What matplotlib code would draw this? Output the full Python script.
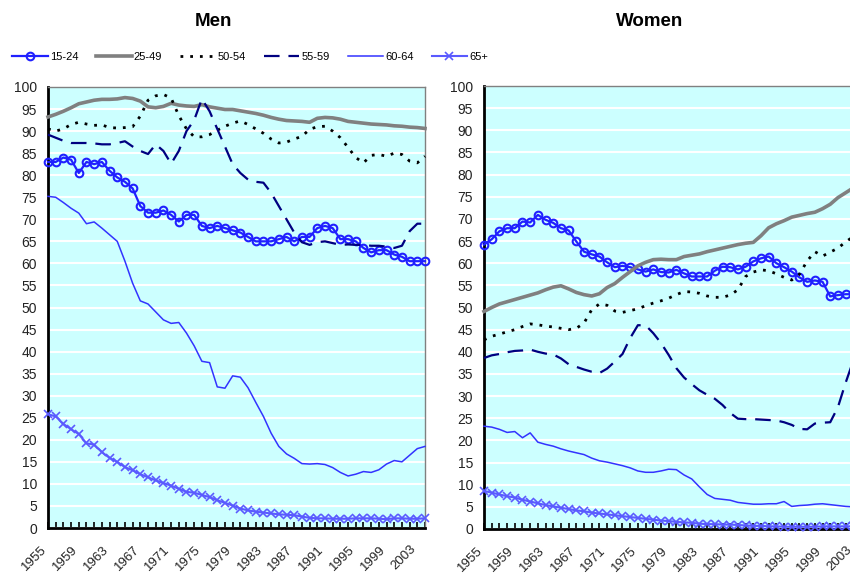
import numpy as np
import matplotlib
matplotlib.use("Agg")
import matplotlib.pyplot as plt
from matplotlib.transforms import ScaledTranslation

plt.rcParams['font.family'] = ['Liberation Sans', 'DejaVu Sans']

years = list(range(1955, 2005))
age_groups = ['15-24', '25-49', '50-54', '55-59', '60-64', '65+']

# participation rates, men
men_15_24 = [83, 83, 84, 83.5, 80.5, 83, 82.5, 83, 81, 79.5, 78.5, 77, 73, 71.5, 71.5, 72, 71, 69.5, 71, 71,
             68.5, 68, 68.5, 68, 67.5, 67, 66, 65, 65, 65, 65.5, 66, 65, 66, 66, 68, 68.5, 68, 65.5, 65.5,
             65, 63.5, 62.5, 63, 63, 62, 61.5, 60.5, 60.5, 60.5]
men_25_49 = [93.2, 93.8, 94.5, 95.3, 96.2, 96.6, 97, 97.2, 97.2, 97.3, 97.6, 97.4, 96.8, 95.5, 95.3, 95.6, 96.3, 95.9, 95.7, 95.6,
             96, 95.5, 95.2, 94.9, 94.9, 94.6, 94.3, 94, 93.6, 93.1, 92.7, 92.4, 92.3, 92.2, 92, 92.9, 93.1, 93, 92.7, 92.2,
             92, 91.8, 91.6, 91.5, 91.4, 91.2, 91.1, 90.9, 90.8, 90.6]
men_50_54 = [90.5, 90, 90.5, 91.5, 92, 91.6, 91.3, 91.4, 90.8, 90.7, 90.8, 91, 93.4, 97, 98, 98.3, 97.5, 93.5, 90.5, 88.7,
             88.7, 89.2, 90.2, 91.1, 91.8, 92.3, 91.5, 90.5, 89.5, 88.2, 87.3, 87.5, 88.2, 88.8, 90.4, 91, 91.1, 90, 88.5, 86.3,
             84, 82.8, 84.5, 84.7, 84.3, 85, 84.7, 83.2, 82.8, 84.3]
men_55_59 = [89.2, 88.5, 87.8, 87.3, 87.3, 87.3, 87.2, 87, 87, 87.3, 87.7, 86.5, 85.5, 84.8, 87, 85.5, 82.6, 85.5, 90, 92.5,
             97.3, 94.5, 90.5, 86.5, 82.5, 80.5, 79, 78.5, 78.3, 76, 73, 70, 67, 64.8, 64.2, 64.8, 65, 64.6, 64.2, 64.3,
             64.2, 64.2, 64, 64, 63.8, 63.5, 64, 67.3, 69, 69]
men_60_64 = [75.2, 75, 73.8, 72.5, 71.4, 69, 69.4, 68, 66.5, 65, 60.5, 55.5, 51.5, 50.8, 49, 47.2, 46.4, 46.6, 44.2, 41.3,
             37.8, 37.5, 32, 31.7, 34.5, 34.2, 31.8, 28.5, 25.3, 21.5, 18.5, 16.8, 15.8, 14.6, 14.5, 14.6, 14.4, 13.7, 12.6, 11.8,
             12.2, 12.8, 12.6, 13.2, 14.5, 15.3, 15, 16.5, 18, 18.5]
men_65p = [25.8, 25.3, 23.6, 22.4, 21.3, 19.2, 18.9, 17.2, 15.9, 15, 13.8, 13.1, 12.2, 11.5, 10.8, 10.2, 9.6, 8.9, 8.2, 8,
           7.5, 7, 6.3, 5.7, 5.1, 4.4, 4, 3.7, 3.5, 3.3, 3.1, 3, 2.9, 2.6, 2.3, 2.2, 2.2, 2.1, 2.1, 2.1,
           2.2, 2.2, 2.2, 2.1, 2, 2.2, 2.2, 2.1, 2.1, 2.2]

# participation rates, women
women_15_24 = [64.2, 65.4, 67.2, 67.9, 67.9, 69.4, 69.2, 70.9, 69.8, 69.1, 67.9, 67.4, 64.9, 62.6, 62, 61.5, 60.2, 59.1, 59.4, 59.1,
               58.6, 58.1, 58.6, 58, 57.9, 58.5, 57.7, 57, 57, 57, 58.3, 59.2, 59.1, 58.6, 59.2, 60.4, 61.1, 61.5, 60, 59.1,
               58.1, 56.8, 55.8, 56.1, 55.8, 52.5, 52.8, 53, 53, 53]
women_25_49 = [49.1, 50, 50.8, 51.3, 51.8, 52.3, 52.8, 53.3, 54, 54.6, 54.9, 54.2, 53.4, 52.9, 52.6, 53.1, 54.5, 55.4, 56.8, 58.1,
               59.4, 60.2, 60.8, 60.9, 60.8, 60.8, 61.5, 61.8, 62.1, 62.6, 63, 63.4, 63.8, 64.2, 64.5, 64.7, 66.2, 68, 68.9, 69.6,
               70.4, 70.8, 71.2, 71.5, 72.3, 73.3, 74.8, 75.9, 77, 78]
women_50_54 = [42.7, 43.5, 44, 44.5, 45, 45.7, 46.3, 46.1, 45.8, 45.6, 45.3, 45, 45.3, 46.5, 49.5, 50.8, 50.5, 49.2, 48.9, 49.3,
               49.7, 50.4, 51, 51.5, 52.1, 52.9, 53.6, 53.5, 53.2, 52.6, 52.3, 52.3, 52.8, 54, 57, 58, 58.5, 58.3, 57.6, 56.8,
               56.2, 57.5, 60.5, 62.6, 61.6, 62.5, 63.4, 64.8, 66, 67]
women_55_59 = [38.6, 39.2, 39.5, 39.9, 40.2, 40.3, 40.5, 40, 39.6, 39.4, 38.5, 37.2, 36.6, 36, 35.5, 35.2, 36.2, 37.8, 39.5, 43.1,
               46, 46, 44.2, 42, 39.3, 36.3, 34.2, 32.7, 31.3, 30.3, 29.4, 28, 26.2, 24.9, 24.8, 24.8, 24.7, 24.6, 24.5, 24.1,
               23.5, 22.6, 22.5, 23.8, 24, 24.1, 27.5, 33, 38, 42]
women_60_64 = [23.2, 23, 22.5, 21.8, 22, 20.6, 21.7, 19.6, 19.1, 18.7, 18.1, 17.6, 17.2, 16.8, 16, 15.4, 15.1, 14.7, 14.3, 13.8,
               13.1, 12.8, 12.8, 13.1, 13.5, 13.4, 12.2, 11.3, 9.5, 7.8, 6.9, 6.7, 6.5, 6, 5.8, 5.6, 5.6, 5.7, 5.7, 6.2,
               5.1, 5.3, 5.4, 5.6, 5.7, 5.5, 5.3, 5.1, 5, 5]
women_65p = [8.6, 8.2, 7.8, 7.4, 7.1, 6.6, 6.2, 5.8, 5.4, 5.1, 4.8, 4.5, 4.2, 4, 3.7, 3.5, 3.3, 3.1, 2.9, 2.7,
             2.5, 2.3, 2.1, 1.9, 1.8, 1.6, 1.5, 1.4, 1.2, 1.1, 1.1, 1, 1, 0.9, 0.8, 0.7, 0.7, 0.6, 0.6, 0.5,
             0.5, 0.5, 0.5, 0.5, 0.6, 0.6, 0.6, 0.6, 0.6, 0.6]

men = [men_15_24, men_25_49, men_50_54, men_55_59, men_60_64, men_65p]
women = [women_15_24, women_25_49, women_50_54, women_55_59, women_60_64, women_65p]

styles = [
    dict(color='#2020ff', lw=1.6, marker='o', ms=5.5, mfc='none', mew=1.5),
    dict(color='#808080', lw=2.6),
    dict(color='black', lw=2, linestyle=(0, (1, 2.5))),
    dict(color='#000080', lw=1.6, linestyle=(0, (7, 4))),
    dict(color='#3333ff', lw=1.1),
    dict(color='#5a5aff', lw=1.5, marker='x', ms=6, mew=1.2),
]

fig = plt.figure(figsize=(8.5, 5.8), dpi=100)
ax_men = fig.add_axes([48/850, 52/580, 377/850, 441/580])
ax_wom = fig.add_axes([484/850, 51/580, 377/850, 443/580])

for ax, data in [(ax_men, men), (ax_wom, women)]:
    ax.set_facecolor('#ccffff')
    for vals, st, lab in zip(data, styles, age_groups):
        ax.plot(years, vals, label=lab, clip_on=False, zorder=3, **st)
    ax.set_xlim(1955, 2004)
    ax.set_ylim(0, 100)
    ax.set_yticks(np.arange(0, 101, 5))
    ax.yaxis.grid(True, color='white', lw=1.5)
    ax.set_axisbelow(True)
    ax.set_xticks(years)
    ax.set_xticklabels([str(y) if (y - 1955) % 4 == 0 else '' for y in years],
                       rotation=45, ha='right', va='center', rotation_mode='anchor')
    ax.tick_params(axis='x', direction='in', length=4, width=1.2, labelsize=9.5, pad=14,
                   labelcolor='#222222')
    ax.tick_params(axis='y', length=0, labelsize=10, pad=8, labelcolor='#222222')
    for lbl in ax.get_xticklabels():
        lbl.set_transform(lbl.get_transform() + ScaledTranslation(-3/100, 0, fig.dpi_scale_trans))
    for s in ['left', 'bottom']:
        ax.spines[s].set_color('black')
        ax.spines[s].set_linewidth(2)
    for s in ['top', 'right']:
        ax.spines[s].set_color('#808080')
        ax.spines[s].set_linewidth(1)

fig.text(213/850, 1 - 21/580, 'Men', ha='center', va='center', fontsize=13.5, fontweight='bold')
fig.text(650/850, 1 - 21/580, 'Women', ha='center', va='center', fontsize=13.5, fontweight='bold')

handles, labels = ax_men.get_legend_handles_labels()
fig.legend(handles, labels, loc='center left', bbox_to_anchor=(12/850, 1 - 57/580), ncol=6,
           frameon=False, fontsize=8, handlelength=3.2, handletextpad=0.2, columnspacing=1.6,
           borderpad=0, borderaxespad=0)

fig.savefig('out.png', dpi=100)
